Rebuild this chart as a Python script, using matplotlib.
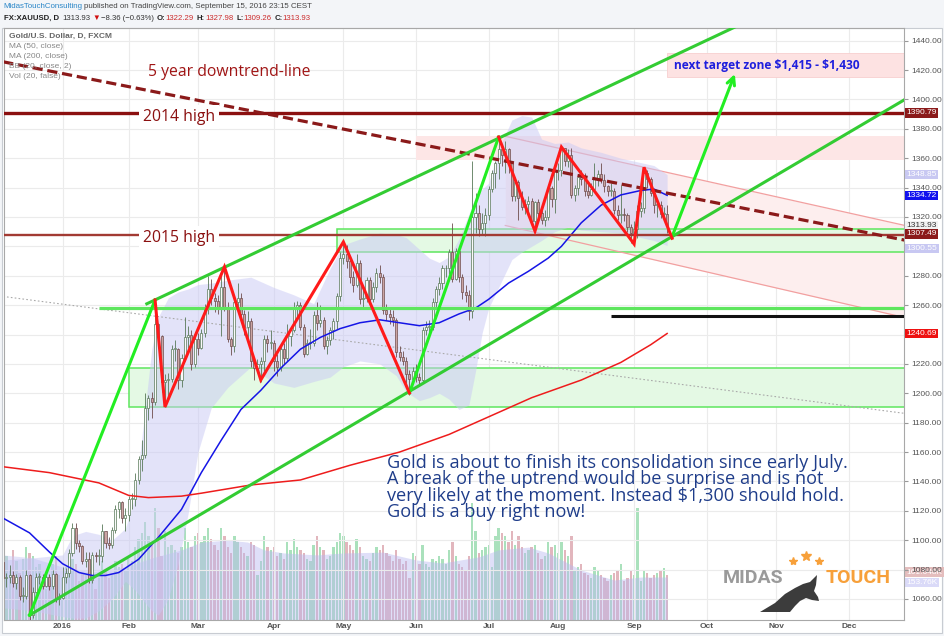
import numpy as np
import matplotlib.pyplot as plt
from matplotlib.patches import Rectangle, Polygon

plt.rcParams['font.family'] = ['Open Sans', 'DejaVu Sans']

W, H = 944, 636

# bars = trading days counted from Fri 4 Dec 2015 (bar 0)
first_bar = 1            # Mon 7 Dec 2015
first_open = 1085.0

closes = [
    # Dec 2015
    1074, 1075, 1076, 1071, 1075, 1062, 1062, 1076, 1049, 1065, 1075, 1075, 1069, 1075, 1069, 1077, 1060, 1061,
    # Jan 2016
    1075, 1078, 1091, 1108, 1098, 1096, 1086, 1087, 1073, 1090, 1089, 1089, 1106, 1098, 1097, 1107, 1121, 1126, 1115, 1117,
    # Feb
    1128, 1128, 1141, 1155, 1158, 1190, 1197, 1194, 1247, 1239, 1208, 1209, 1210, 1230, 1230, 1209, 1224, 1238, 1240, 1220, 1237,
    # Mar
    1231, 1241, 1259, 1271, 1265, 1263, 1258, 1272, 1259, 1237, 1232, 1262, 1265, 1254, 1245, 1249, 1222, 1217, 1220, 1222, 1237, 1234, 1234,
    # Apr
    1222, 1218, 1230, 1224, 1239, 1243, 1259, 1260, 1245, 1227, 1234, 1234, 1253, 1248, 1250, 1232, 1236, 1243, 1249, 1266, 1292,
    # May
    1295, 1290, 1279, 1274, 1289, 1264, 1265, 1277, 1264, 1272, 1282, 1279, 1257, 1254, 1252, 1250, 1228, 1225, 1222, 1213, 1210, 1215,
    # Jun
    1211, 1209, 1243, 1245, 1245, 1262, 1271, 1275, 1285, 1285, 1296, 1278, 1297, 1279, 1269, 1267, 1256, 1320, 1323, 1312, 1316, 1321,
    # Jul
    1339, 1350, 1357, 1366, 1362, 1366, 1357, 1334, 1344, 1333, 1327, 1329, 1331, 1317, 1330, 1323, 1318, 1320, 1340, 1332, 1351,
    # Aug
    1352, 1367, 1358, 1362, 1335, 1340, 1347, 1346, 1338, 1335, 1339, 1346, 1349, 1345, 1341, 1338, 1338, 1325, 1321, 1322, 1321, 1313, 1309,
    # Sep
    1312, 1324, 1326, 1350, 1346, 1336, 1328, 1328, 1322, 1322.29, 1313.93,
]
highs = [
    1087, 1078, 1083, 1079, 1077, 1076, 1068, 1080, 1077, 1068, 1078, 1078, 1077, 1078, 1077, 1080, 1078, 1064,
    1082, 1081, 1094, 1112, 1112, 1100, 1097, 1092, 1092, 1092, 1092, 1094, 1111, 1106, 1102, 1109, 1124, 1127, 1127, 1122,
    1130, 1132, 1146, 1157, 1168, 1200, 1199, 1201, 1263, 1248, 1240, 1213, 1214, 1233, 1236, 1231, 1227, 1252, 1246, 1243, 1242,
    1241, 1244, 1261, 1280, 1278, 1268, 1267, 1282, 1287, 1262, 1238, 1265, 1275, 1268, 1257, 1256, 1251, 1225, 1223, 1225, 1240, 1240, 1243,
    1236, 1227, 1233, 1234, 1247, 1244, 1262, 1263, 1262, 1247, 1237, 1244, 1256, 1262, 1260, 1252, 1239, 1245, 1251, 1268, 1296,
    1304, 1301, 1292, 1283, 1295, 1291, 1271, 1279, 1279, 1276, 1285, 1287, 1281, 1261, 1258, 1257, 1251, 1232, 1229, 1225, 1216, 1218,
    1220, 1214, 1245, 1249, 1250, 1265, 1273, 1279, 1287, 1287, 1298, 1316, 1299, 1298, 1281, 1274, 1270, 1358, 1336, 1328, 1323, 1326,
    1341, 1352, 1358, 1375, 1368, 1372, 1367, 1358, 1347, 1345, 1338, 1332, 1334, 1333, 1331, 1332, 1325, 1325, 1342, 1341, 1353,
    1357, 1367, 1367, 1366, 1367, 1342, 1349, 1352, 1350, 1344, 1343, 1357, 1352, 1357, 1349, 1342, 1343, 1340, 1328, 1342, 1326, 1323, 1315,
    1317, 1328, 1330, 1352, 1352, 1347, 1338, 1332, 1331, 1327, 1327.98,
]
lows = [
    1072, 1068, 1071, 1068, 1067, 1059, 1058, 1060, 1046, 1047, 1064, 1070, 1067, 1068, 1066, 1067, 1058, 1056,
    1060, 1071, 1075, 1089, 1094, 1092, 1084, 1082, 1071, 1071, 1085, 1083, 1085, 1095, 1094, 1095, 1105, 1115, 1112, 1106,
    1113, 1121, 1123, 1138, 1147, 1156, 1182, 1183, 1192, 1232, 1201, 1191, 1197, 1208, 1222, 1203, 1204, 1222, 1231, 1216, 1218,
    1226, 1230, 1238, 1254, 1260, 1255, 1254, 1239, 1256, 1235, 1226, 1228, 1257, 1250, 1240, 1237, 1218, 1209, 1215, 1208, 1215, 1228, 1230,
    1215, 1212, 1215, 1220, 1222, 1232, 1242, 1252, 1243, 1225, 1226, 1230, 1232, 1243, 1245, 1230, 1227, 1233, 1237, 1244, 1263,
    1288, 1285, 1275, 1269, 1272, 1261, 1258, 1262, 1262, 1262, 1269, 1275, 1254, 1250, 1247, 1246, 1225, 1222, 1219, 1207, 1199, 1206,
    1208, 1205, 1207, 1240, 1238, 1243, 1259, 1267, 1271, 1279, 1281, 1276, 1277, 1276, 1264, 1262, 1250, 1251, 1309, 1307, 1308, 1307,
    1318, 1337, 1340, 1346, 1355, 1350, 1350, 1331, 1331, 1318, 1325, 1322, 1321, 1315, 1310, 1320, 1315, 1314, 1318, 1327, 1323,
    1345, 1348, 1355, 1354, 1333, 1331, 1335, 1342, 1334, 1333, 1334, 1337, 1341, 1343, 1337, 1334, 1334, 1322, 1318, 1316, 1317, 1310, 1302,
    1302, 1306, 1320, 1323, 1340, 1334, 1323, 1320, 1319, 1318, 1309.26,
]
# volume in thousands
volumes = [
    200, 230, 180, 250, 210, 170, 220, 260, 240, 230, 190, 200, 150, 110, 140, 200, 230, 160,
    150, 190, 230, 220, 200, 140, 170, 160, 180, 200, 110, 150, 210, 180, 150, 160, 210, 190, 200, 180,
    230, 210, 260, 290, 310, 350, 300, 280, 400, 330, 230, 320, 260, 270, 250, 240, 260, 330, 280, 260, 300,
    310, 280, 300, 330, 290, 270, 250, 330, 300, 260, 240, 300, 280, 260, 240, 230, 280, 270, 160, 210, 300, 260, 250,
    260, 230, 240, 220, 280, 250, 290, 260, 250, 240, 220, 210, 270, 300, 260, 250, 220, 230, 260, 280, 310,
    300, 280, 270, 250, 290, 260, 230, 220, 210, 240, 260, 250, 270, 240, 230, 210, 250, 220, 200, 210, 150, 240,
    230, 200, 270, 200, 190, 220, 210, 230, 220, 200, 250, 280, 230, 200, 190, 180, 230, 420, 320, 240, 250, 260,
    270, 190, 300, 330, 310, 300, 280, 320, 270, 300, 260, 240, 250, 260, 270, 240, 220, 230, 280, 260, 270,
    240, 280, 250, 230, 300, 180, 190, 200, 170, 160, 150, 190, 180, 160, 150, 140, 160, 170, 180, 200, 140, 150, 180,
    160, 400, 140, 180, 170, 150, 160, 170, 180, 185, 161.048,
]

# indicators (bar, value)
ma_bars = [1, 9, 15, 19, 24, 28, 32, 36, 42, 48, 55, 61, 67, 73, 79, 85, 91, 97, 103, 109, 115, 121,
           127, 133, 139, 144, 148, 154, 160, 166, 170, 176, 182, 188, 194, 198, 202]
ma50 = [1115, 1105, 1092, 1084, 1078, 1076, 1076, 1078, 1087, 1102, 1121, 1146, 1168, 1189, 1202, 1217,
        1230, 1238, 1244, 1248, 1250, 1248, 1246, 1248, 1254, 1258, 1264, 1275, 1283, 1292, 1300, 1316,
        1328, 1335, 1338, 1339, 1334.72]
ma200_bars = [1, 15, 30, 39, 45, 55, 61, 76, 91, 106, 121, 136, 148, 161, 176, 188, 197, 202]
ma200 = [1150, 1146, 1139, 1130.5, 1129, 1130, 1132, 1137.6, 1141, 1151, 1160, 1172, 1184, 1197, 1209,
         1221, 1233, 1240.69]
bb_bars = [1, 10, 19, 22, 26, 30, 34, 38, 41, 43, 46, 48, 51, 54, 57, 60, 64, 69, 76, 83, 89, 95, 100,
           104, 109, 115, 120, 123, 127, 130, 133, 136, 139, 142, 144, 146, 148, 151, 155, 158, 161, 164,
           168, 172, 176, 182, 188, 194, 198, 202]
bb_upper = [1090, 1088, 1090, 1103, 1106, 1104, 1100, 1108, 1130, 1170, 1230, 1252, 1265, 1269, 1271,
            1274, 1275, 1277, 1279, 1272, 1267, 1261, 1285, 1301, 1305, 1309, 1308, 1306, 1298, 1292,
            1289, 1293, 1305, 1322, 1334, 1339, 1343, 1366, 1386, 1389, 1388, 1373, 1370, 1371, 1367,
            1364, 1360, 1357, 1355, 1348.85]
bb_lower = [1054, 1052, 1048, 1047, 1047, 1052, 1060, 1072, 1066, 1060, 1052, 1049, 1060, 1084, 1118,
            1160, 1190, 1204, 1218, 1207, 1204, 1208, 1211, 1218, 1222, 1220, 1212, 1201, 1195, 1197,
            1200, 1196, 1189, 1192, 1215, 1241, 1258, 1272, 1291, 1296, 1300, 1304, 1310, 1313, 1311,
            1310, 1309, 1306, 1304, 1300.55]
volma_bars = [1, 10, 19, 28, 38, 46, 55, 61, 69, 75, 80, 86, 96, 104, 116, 126, 134, 145, 151, 160,
              166, 176, 186, 194, 202]
volma = [215, 222, 190, 172, 190, 222, 251, 279, 286, 279, 251, 240, 233, 240, 243, 215, 204, 226, 251,
         261, 240, 179, 143, 153.76, 153.76]

# month labels
month_bars = [19, 39, 60, 83, 104, 126, 148, 169, 192, 214, 235, 257]
month_labels = ['2016', 'Feb', 'Mar', 'Apr', 'May', 'Jun', 'Jul', 'Aug', 'Sep', 'Oct', 'Nov', 'Dec']

# drawings (bar, price)
high_2014 = 1390.79
high_2015 = 1307.49
downtrend_bars, downtrend_px = [1, 274], [1425.6, 1304.2]
chan_low_bars, chan_low_px = [9, 274], [1049.0, 1400.0]
chan_up_bars, chan_up_px = [44.5, 232], [1260.9, 1459.3]
leg1_bars, leg1_px = [9, 47], [1049.0, 1263.5]
leg2_bars, leg2_px = [124, 151], [1200.2, 1374.4]
leg3_bars, leg3_px = [203.5, 222.5], [1306.6, 1417.3]
zig1_bars = [47, 50, 68, 79, 104, 124]
zig1_px = [1263.5, 1190.7, 1286.0, 1209.1, 1303.0, 1200.2]
zig2_bars = [151, 162, 170, 192, 195, 203.5]
zig2_px = [1374.4, 1310.4, 1367.6, 1301.6, 1353.8, 1305.5]
pink_chan_bars = [153, 274]
pink_chan_up = [1374.9, 1314.2]
pink_chan_low = [1314.2, 1251.5]
dotted_bars, dotted_px = [1, 274], [1265.9, 1186.3]
black_start, black_level = 185, 1252.3
green_line_start, green_line_level = 30, 1258.0
# zones: start bar, low, high
target_zone = (202, 1415.3, 1431.6)
pink_zone = (126, 1359.0, 1375.0)
green_zone_a = (102, 1296.1, 1311.8)
green_zone_c = (39, 1190.5, 1217.5)

note_lines = ["Gold is about to finish its consolidation since early July.",
              "A break of the uptrend would be surprise and is not",
              r"very likely at the moment. Instead \$1,300 should hold.",
              "Gold is a buy right now!"]

x_lo, x_hi = 1.27, 273.7
y_lo, y_hi = 1045.7, 1448.6
vol_top = 592 * 3.58
small = ['Liberation Sans', 'DejaVu Sans']

fig = plt.figure(figsize=(W / 100, H / 100), dpi=100, facecolor='#f3f5f8')
fig.add_artist(Rectangle((2 / W, 1 - 633 / H), 940 / W, 605 / H, transform=fig.transFigure,
                         facecolor='white', edgecolor='#c8ccd2', lw=0.8, zorder=0))

ax = fig.add_axes([4 / W, 1 - 620 / H, 900 / W, 592 / H])
ax2 = ax.twinx()
ax.set_zorder(2)
ax2.set_zorder(1)
ax.patch.set_visible(False)
ax2.patch.set_facecolor('white')

ax.set_xlim(x_lo, x_hi)
ax.set_ylim(y_lo, y_hi)
ax2.set_ylim(0, vol_top)
ax2.set_yticks([])
for s in ax2.spines.values():
    s.set_visible(False)
for s in ax.spines.values():
    s.set_color('#a8a8a8')
    s.set_linewidth(0.8)

ax.set_xticks(month_bars)
ax.set_xticklabels(month_labels, fontsize=6, color='#555555', fontweight='bold', family=small)
price_ticks = np.arange(1060, 1441, 20)
ax.set_yticks(price_ticks)
ax.set_yticklabels(['' if v in (1240, 1300) else f'{v:.2f}' for v in price_ticks], family=small)
ax.yaxis.tick_right()
ax.tick_params(axis='y', labelsize=6, labelcolor='#555555', length=3, color='#999999', pad=2)
ax.tick_params(axis='x', length=0, pad=2.5)
ax.set_axisbelow(True)
ax.grid(color='#ebebeb', lw=0.8)

bars = np.arange(first_bar, first_bar + len(closes))
c = np.array(closes, float)
o = np.r_[first_open, c[:-1]]
up = c >= o

# volume pane
ax2.bar(bars, volumes, width=0.72, color=np.where(up, '#8ad6a2', '#d89aa4'), alpha=0.72, lw=0)
ax2.fill_between(volma_bars, 0, volma, color='#b8b8f0', alpha=0.45, lw=0)

# zones
def zone(z, fc, ec, lw=1.0):
    ax.add_patch(Rectangle((z[0], z[1]), 300, z[2] - z[1], facecolor=fc, edgecolor=ec, lw=lw, zorder=1))

zone(target_zone, '#fde2e2', '#f8cfcf', 0.6)
zone(pink_zone, '#fde6e6', 'none')
ax.fill_between(pink_chan_bars, pink_chan_low, pink_chan_up, color='#fdeeee', lw=0, zorder=1)
ax.plot(pink_chan_bars, pink_chan_up, color='#f2a0a0', lw=0.9, zorder=1.5)
ax.plot(pink_chan_bars, pink_chan_low, color='#f2a0a0', lw=0.9, zorder=1.5)
zone(green_zone_a, '#e4f9e4', '#5ee65e', 1.1)
zone(green_zone_c, '#e4f9e4', '#5ee65e', 1.1)

# bollinger bands
ax.fill_between(bb_bars, bb_lower, bb_upper, color='#c9c9f5', alpha=0.5, lw=0, zorder=2)

# gray dotted line
ax.plot(dotted_bars, dotted_px, color='#aaaaaa', lw=0.8, ls=(0, (1.5, 2)), zorder=2)

# candles
up_edge, dn_edge = '#587858', '#6e4c4c'
ax.vlines(bars, lows, highs, colors=np.where(up, up_edge, dn_edge), lw=0.6, zorder=5)
body = np.maximum(np.abs(c - o), 0.6)
ax.bar(bars, body, bottom=np.minimum(o, c), width=0.62,
       color=np.where(up, '#fafafa', '#cba4a2'), edgecolor=np.where(up, up_edge, dn_edge),
       lw=0.5, zorder=6)

# moving averages
ax.plot(ma_bars, ma50, color='#1515e6', lw=1.1, zorder=7)
ax.plot(ma200_bars, ma200, color='#ee1c1c', lw=1.1, zorder=7)

# horizontal levels
ax.axhline(high_2014, color='#8b1010', lw=2.4, zorder=8)
ax.axhline(high_2015, color='#a23a33', lw=1.7, zorder=8)
ax.hlines(green_line_level, green_line_start, 300, color='#5ee65e', lw=2.3, zorder=8)
ax.hlines(black_level, black_start, 300, color='#111111', lw=2.2, zorder=8)

# trend lines
ax.plot(downtrend_bars, downtrend_px, color='#8b1a1a', lw=2.3, ls=(0, (3.2, 1.5)), zorder=9)
ax.plot(chan_low_bars, chan_low_px, color='#33cc33', lw=2.2, zorder=9)
ax.plot(chan_up_bars, chan_up_px, color='#33cc33', lw=2.2, zorder=9)
ax.plot(leg1_bars, leg1_px, color='#22ee22', lw=2.2, zorder=10)
ax.plot(leg2_bars, leg2_px, color='#22ee22', lw=2.2, zorder=10)
ax.annotate('', xy=(leg3_bars[1], leg3_px[1]), xytext=(leg3_bars[0], leg3_px[0]),
            arrowprops=dict(arrowstyle='->', color='#22ee22', lw=2.2, mutation_scale=14,
                            shrinkA=0, shrinkB=0), zorder=10)
ax.plot(zig1_bars, zig1_px, color='#ff1a1a', lw=2.2, zorder=10, solid_joinstyle='miter')
ax.plot(zig2_bars, zig2_px, color='#ff1a1a', lw=2.2, zorder=10, solid_joinstyle='miter')

# chart texts
box = dict(boxstyle='square,pad=0.25', fc='white', ec='none')
ax.text(43.3, high_2014 - 2.5, '2014 high', fontsize=11.3, color='#8b1010', va='center', zorder=11, bbox=box)
ax.text(43.3, high_2015 - 1.5, '2015 high', fontsize=11.3, color='#8b1010', va='center', zorder=11, bbox=box)
ax.text(45, 1418.6, '5 year downtrend-line', fontsize=11.3, color='#a01515', va='center', zorder=11)
ax.text(204, 1423.4, r'next target zone \$1,415 - \$1,430', fontsize=8.6, fontweight='bold',
        color='#1f1fdd', va='center', zorder=11)

def fx(x):
    return x / W

def fy(y):
    return 1 - y / H

for i, line in enumerate(note_lines):
    fig.text(fx(387), fy(463 + 16.4 * i), line, fontsize=13.1, color='#1f3d8a', va='center', zorder=12)

# legend in the top-left corner
legend_lines = ['MA (50, close)', 'MA (200, close)', 'BB (20, close, 2)', 'Vol (20, false)']
fig.text(fx(9), fy(36), 'Gold/U.S. Dollar, D, FXCM', fontsize=6, color='#666666',
         fontweight='bold', va='center', zorder=12, family=small)
for i, t in enumerate(legend_lines):
    fig.text(fx(9), fy(46 + 10 * i), t, fontsize=6, color='#888888', va='center', zorder=12,
             family=small)

# price tags on the right axis
tags = [(high_2014, '#8b1a1a', 'white', 0), (bb_upper[-1], '#c8c8f2', 'white', 0),
        (ma50[-1], '#1010ee', 'white', 0), (closes[-1], '#f2f2f2', '#333333', 0),
        (high_2015, '#8b1a1a', 'white', 1), (bb_lower[-1], '#c8c8f2', 'white', -2),
        (ma200[-1], '#ee1111', 'white', 0)]
for val, bg, fg, dy in tags:
    ax.annotate(f'{val:.2f}', xy=(1.003, val), xycoords=ax.get_yaxis_transform(), xytext=(0, dy),
                textcoords='offset points', fontsize=6, color=fg, va='center', ha='left',
                annotation_clip=False, zorder=13, family=small,
                bbox=dict(boxstyle='square,pad=0.15', fc=bg, ec='none'))
vol_tags = [(volumes[-1], '161.048K', '#e4bdbd', 2), (volma[-1], '153.76K', '#dadaf8', -4)]
for val, txt, bg, dy in vol_tags:
    ax2.annotate(txt, xy=(1.003, val), xycoords=ax2.get_yaxis_transform(), xytext=(0, dy),
                 textcoords='offset points', fontsize=6, color='white', va='center', ha='left',
                 annotation_clip=False, family=small,
                 bbox=dict(boxstyle='square,pad=0.15', fc=bg, ec='none'))

# header, pieces laid out one after another
renderer = fig.canvas.get_renderer()

def chain(x, y, pieces, size):
    for t, col, wt, gap in pieces:
        txt = fig.text(fx(x), fy(y), t, fontsize=size, color=col, fontweight=wt, va='center',
                       family=small)
        x += txt.get_window_extent(renderer=renderer).width + gap

dark, red = '#222222', '#cc2b2b'
chain(3, 7, [('MidasTouchConsulting', '#2a86c8', 'normal', 2),
             ('published on TradingView.com, September 15, 2016 23:15 CEST', '#444444', 'normal', 0)], 5.7)
chain(4, 18, [('FX:XAUUSD, D', dark, 'bold', 3), ('1313.93', '#333333', 'normal', 2),
              ('▼', '#d01010', 'normal', 1), ('−8.36 (−0.63%)', '#333333', 'normal', 3),
              ('O:', dark, 'bold', 0), ('1322.29', red, 'normal', 3),
              ('H:', dark, 'bold', 0), ('1327.98', red, 'normal', 3),
              ('L:', dark, 'bold', 0), ('1309.26', red, 'normal', 3),
              ('C:', dark, 'bold', 0), ('1313.93', red, 'normal', 0)], 5.6)

# MIDAS TOUCH logo
fig.text(fx(723), fy(578), 'MIDAS', fontsize=14, fontweight='bold', color='#9a9a9a',
         va='center', family=['Roboto', 'DejaVu Sans'])
fig.text(fx(826), fy(578), 'TOUCH', fontsize=14, fontweight='bold', color='#f7a03a',
         va='center', family=['Roboto', 'DejaVu Sans'])
for sx, sy, ms in [(793, 561, 6), (806, 556, 7.5), (819, 561, 6)]:
    fig.add_artist(plt.Line2D([fx(sx)], [fy(sy)], marker='*', ms=ms, color='#f7a03a',
                              transform=fig.transFigure))
bull = [(760, 612), (775, 603), (785, 594), (795, 588), (803, 584), (810, 582), (814, 578),
        (817, 575), (816, 585), (814, 591), (818, 597), (819, 601), (812, 600), (806, 598),
        (800, 601), (795, 606), (790, 612)]
fig.add_artist(Polygon([(fx(x), fy(y)) for x, y in bull], closed=True, transform=fig.transFigure,
                       facecolor='#3c3c3c', edgecolor='none', zorder=12))

fig.savefig('out.png', dpi=100, facecolor=fig.get_facecolor())
